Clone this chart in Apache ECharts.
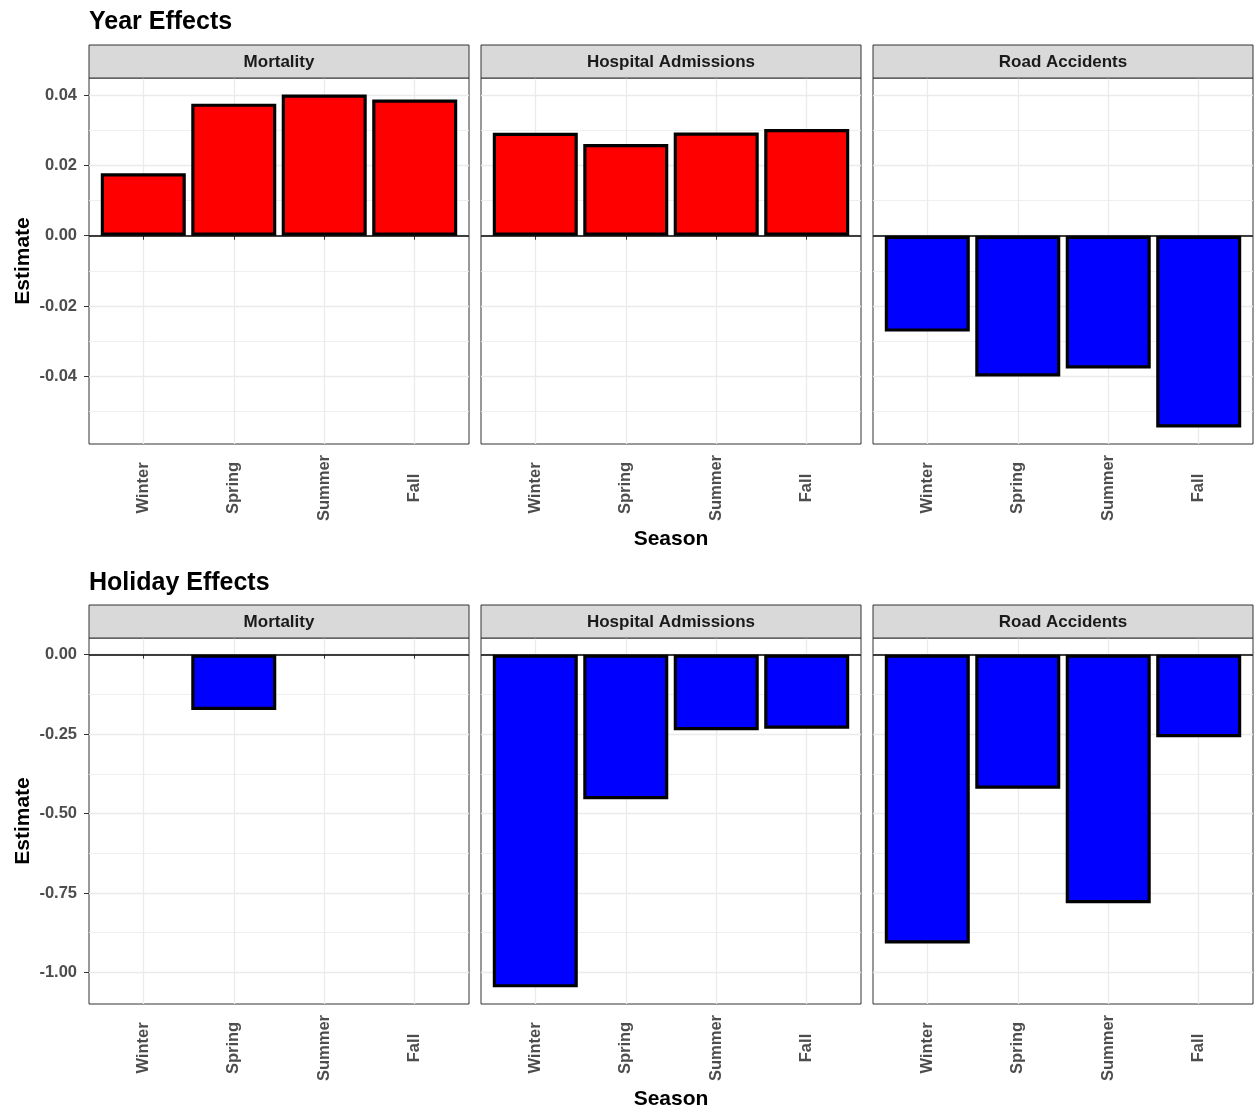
<!DOCTYPE html>
<html><head><meta charset="utf-8">
<script src="https://cdn.jsdelivr.net/npm/echarts@6/dist/echarts.min.js"></script>
<style>html,body{margin:0;padding:0;background:#fff}#c{width:1259px;height:1108px}</style>
</head><body><div id="c"></div>
<script>
// ---- data ----
const seasons = ['Winter', 'Spring', 'Summer', 'Fall'];
const outcomes = ['Mortality', 'Hospital Admissions', 'Road Accidents'];
const sections = ['Year Effects', 'Holiday Effects'];
const yearMortality = [0.0178, 0.0376, 0.0402, 0.0388];
const yearHospital = [0.0293, 0.0261, 0.0294, 0.0304];
const yearRoad = [-0.0273, -0.0401, -0.0378, -0.0546];
const holidayMortality = [null, -0.174, null, null];
const holidayHospital = [-1.047, -0.455, -0.238, -0.233];
const holidayRoad = [-0.909, -0.422, -0.782, -0.260];
const yearTicks = [-0.04, -0.02, 0, 0.02, 0.04];
const yearMinorTicks = [-0.05, -0.03, -0.01, 0.01, 0.03];
const holidayTicks = [-1, -0.75, -0.5, -0.25, 0];
const holidayMinorTicks = [-0.875, -0.625, -0.375, -0.125];
const yearRange = [-0.0593, 0.0449];
const holidayRange = [-1.0994, 0.0524];

// ---- layout ----
const FONT = '"Liberation Sans", Arial, Helvetica, sans-serif';
const panelLeft = [89, 481, 873];
const panelW = 380;
const panelTop = [78, 638];
const panelH = 366;
const stripH = 33;

const rows = [
  { values: [yearMortality, yearHospital, yearRoad], ticks: yearTicks, minor: yearMinorTicks, range: yearRange },
  { values: [holidayMortality, holidayHospital, holidayRoad], ticks: holidayTicks, minor: holidayMinorTicks, range: holidayRange }
];

const grid = [], xAxis = [], yAxis = [], series = [], graphic = [];
const catPos = seasons.map((s, i) => i + 1);

rows.forEach((row, r) => {
  graphic.push({
    type: 'text', left: panelLeft[0], top: panelTop[r] - stripH - 35 + r,
    style: { text: sections[r], font: 'bold 25px ' + FONT, fill: '#000' }
  });
  outcomes.forEach((name, c) => {
    const g = grid.length;
    grid.push({
      left: panelLeft[c], top: panelTop[r], width: panelW, height: panelH,
      show: true, backgroundColor: '#fff', borderColor: '#333', borderWidth: 1,
      containLabel: false, outerBoundsMode: 'none'
    });
    graphic.push({
      type: 'rect', shape: { x: panelLeft[c], y: panelTop[r] - stripH, width: panelW, height: stripH },
      style: { fill: '#D9D9D9', stroke: '#333', lineWidth: 1 }, z: 10
    });
    graphic.push({
      type: 'text', x: panelLeft[c] + panelW / 2, y: panelTop[r] - stripH / 2 + 1, z: 11,
      style: { text: name, font: 'bold 17px ' + FONT, fill: '#1A1A1A', align: 'center', verticalAlign: 'middle' }
    });
    xAxis.push({
      type: 'value', gridIndex: g, min: 0.4, max: 4.6,
      axisLine: { show: false },
      axisTick: { show: true, customValues: catPos, length: 4, lineStyle: { color: '#333', width: 1 } },
      axisLabel: {
        show: true, customValues: catPos, rotate: 90, align: 'center', verticalAlign: 'middle', margin: 44,
        formatter: v => seasons[Math.round(v) - 1],
        color: '#4D4D4D', fontFamily: FONT, fontWeight: 'bold', fontSize: 16.5
      },
      splitLine: { show: true, lineStyle: { color: '#EBEBEB', width: 1.3 } },
      name: c === 1 ? 'Season' : '', nameLocation: 'middle', nameGap: 85,
      nameTextStyle: { fontFamily: FONT, fontWeight: 'bold', fontSize: 21, color: '#000' }
    });
    const yMain = yAxis.length;
    yAxis.push({
      type: 'value', gridIndex: g, min: row.range[0], max: row.range[1], position: 'left',
      axisLine: { show: false },
      axisTick: { show: c === 0, customValues: row.ticks, length: 5, lineStyle: { color: '#333', width: 1 } },
      axisLabel: {
        show: c === 0, customValues: row.ticks, margin: 12,
        formatter: v => v.toFixed(2),
        color: '#4D4D4D', fontFamily: FONT, fontWeight: 'bold', fontSize: 16.5
      },
      splitLine: { show: true, lineStyle: { color: '#EBEBEB', width: 1.3 } },
      name: c === 0 ? 'Estimate' : '', nameLocation: 'middle', nameGap: 55,
      nameTextStyle: { fontFamily: FONT, fontWeight: 'bold', fontSize: 21, color: '#000' },
      z: 1
    });
    yAxis.push({
      type: 'value', gridIndex: g, min: row.range[0], max: row.range[1], position: 'left',
      axisLine: { show: false },
      axisTick: { show: false, customValues: row.minor },
      axisLabel: { show: false, customValues: row.minor },
      splitLine: { show: true, lineStyle: { color: '#EDEDED', width: 0.9 } },
      z: 0
    });
    const vals = row.values[c];
    series.push({
      type: 'bar', xAxisIndex: g, yAxisIndex: yMain,
      data: vals.map((v, i) => [catPos[i], v]),
      barWidth: 85, barMaxWidth: 200,
      itemStyle: {
        color: p => (p.value[1] > 0 ? '#FF0000' : '#0000FF'),
        borderColor: '#000', borderWidth: 3.2
      },
      markLine: {
        silent: true, symbol: 'none', animation: false,
        label: { show: false },
        lineStyle: { color: '#000', width: 1.6, type: 'solid' },
        data: [{ yAxis: 0 }]
      }
    });
  });
});

const chart = echarts.init(document.getElementById('c'), null, { renderer: 'canvas' });
chart.setOption({
  backgroundColor: '#fff',
  animation: false,
  grid, xAxis, yAxis, series, graphic
});
</script>
</body></html>
